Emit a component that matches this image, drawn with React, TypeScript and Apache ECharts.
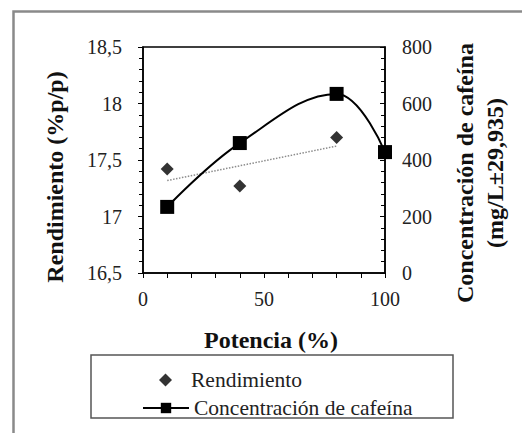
import React, { useEffect, useRef } from "react";
import * as echarts from "echarts";

// Data
const potencia = [10, 40, 80, 100];
const cafeina = [234, 460, 634, 428];
const rendimientoX = [10, 40, 80];
const rendimiento = [17.42, 17.27, 17.7];
const leftTicks = [16.5, 17, 17.5, 18, 18.5];
const rightTicks = [0, 200, 400, 600, 800];
const xTicks = [0, 50, 100];

function linearFit(xs: number[], ys: number[]) {
  const n = xs.length;
  const mx = xs.reduce((a, b) => a + b, 0) / n;
  const my = ys.reduce((a, b) => a + b, 0) / n;
  let sxy = 0;
  let sxx = 0;
  for (let i = 0; i < n; i++) {
    sxy += (xs[i] - mx) * (ys[i] - my);
    sxx += (xs[i] - mx) * (xs[i] - mx);
  }
  const slope = sxy / sxx;
  const intercept = my - slope * mx;
  return (x: number) => intercept + slope * x;
}

const SERIF = "Liberation Serif";

export default function App() {
  const ref = useRef<HTMLDivElement>(null);

  useEffect(() => {
    document.body.style.margin = "0";
    if (!ref.current) return;
    const chart = echarts.init(ref.current, undefined, { renderer: "svg" });
    const fit = linearFit(rendimientoX, rendimiento);
    const x0 = rendimientoX[0];
    const x1 = rendimientoX[rendimientoX.length - 1];
    const trend = [
      [x0, fit(x0)],
      [x1, fit(x1)],
    ];

    const legendText = { fontFamily: SERIF, fontSize: 21.5, color: "#222" };

    chart.setOption({
      animation: false,
      backgroundColor: "#ffffff",
      textStyle: { fontFamily: SERIF },
      graphic: {
        elements: [
          {
            type: "polyline",
            z: 100,
            shape: { points: [[13.5, 440], [13.5, 11.5], [530, 11.5]] },
            style: { stroke: "#8a8a8a", lineWidth: 2.5, fill: "none" },
            silent: true,
          },
          {
            type: "rect",
            shape: { x: 91, y: 355, width: 362, height: 63 },
            style: { fill: "#ffffff", stroke: "#555555", lineWidth: 1.5 },
            silent: true,
            z: -5,
          },
        ],
      },
      grid: {
        left: 143,
        right: 137,
        top: 47,
        bottom: 160,
        show: true,
        borderColor: "#000",
        borderWidth: 1.5,
        backgroundColor: "transparent",
      },
      legend: [
        {
          left: 159,
          top: 369,
          padding: 0,
          itemWidth: 13,
          itemHeight: 13,
          textStyle: { ...legendText, padding: [0, 0, 0, 14] },
          data: [{ name: "Rendimiento", icon: "diamond" }],
        },
        {
          left: 142,
          top: 397,
          padding: 0,
          itemWidth: 46,
          itemHeight: 13,
          textStyle: legendText,
          data: [{ name: "Concentración de cafeína" }],
        },
      ],
      xAxis: {
        type: "value",
        min: xTicks[0],
        max: xTicks[xTicks.length - 1],
        interval: xTicks[1] - xTicks[0],
        name: "Potencia (%)",
        nameLocation: "middle",
        nameGap: 55,
        nameTextStyle: {
          fontFamily: SERIF,
          fontSize: 24,
          fontWeight: "bold",
          color: "#111",
          padding: [0, 0, 0, 14],
        },
        axisLine: { lineStyle: { color: "#000", width: 1.5 } },
        axisTick: { show: true, length: 5, lineStyle: { color: "#000" } },
        minorTick: { show: true, splitNumber: 5, length: 5, lineStyle: { color: "#000" } },
        axisLabel: { fontFamily: SERIF, fontSize: 20, color: "#222", margin: 16 },
        splitLine: { show: false },
      },
      yAxis: [
        {
          type: "value",
          position: "left",
          min: leftTicks[0],
          max: leftTicks[leftTicks.length - 1],
          interval: 0.5,
          name: "Rendimiento (%p/p)",
          nameLocation: "middle",
          nameGap: 76,
          nameTextStyle: {
            fontFamily: SERIF,
            fontSize: 24,
            fontWeight: "bold",
            color: "#111",
            padding: [0, 34, 0, 0],
          },
          axisLine: { show: true, lineStyle: { color: "#000", width: 1.5 } },
          axisTick: { show: true, length: 5, lineStyle: { color: "#000" } },
          minorTick: { show: true, splitNumber: 5, length: 4, lineStyle: { color: "#000" } },
          axisLabel: {
            fontFamily: SERIF,
            fontSize: 20,
            color: "#222",
            margin: 21,
            formatter: (v: number) => String(v).replace(".", ","),
          },
          splitLine: { show: false },
        },
        {
          type: "value",
          position: "right",
          min: rightTicks[0],
          max: rightTicks[rightTicks.length - 1],
          interval: 200,
          name: "Concentración de cafeína\n(mg/L±29,935)",
          nameLocation: "middle",
          nameGap: 65,
          nameTextStyle: {
            fontFamily: SERIF,
            fontSize: 24,
            fontWeight: "bold",
            color: "#111",
            lineHeight: 30,
            align: "center",
            padding: [0, 26, 0, 0],
          },
          axisLine: { show: true, lineStyle: { color: "#000", width: 1.5 } },
          axisTick: { show: true, inside: true, length: 5, lineStyle: { color: "#000" } },
          minorTick: { show: true, splitNumber: 5, length: 4, lineStyle: { color: "#000" } },
          axisLabel: { fontFamily: SERIF, fontSize: 20, color: "#222", margin: 17 },
          splitLine: { show: false },
        },
      ],
      series: [
        {
          name: "Rendimiento",
          type: "scatter",
          yAxisIndex: 0,
          symbol: "diamond",
          symbolSize: 13,
          itemStyle: { color: "#000" },
          data: rendimientoX.map((x, i) => [x, rendimiento[i]]),
          z: 4,
        },
        {
          name: "Tendencia",
          type: "line",
          yAxisIndex: 0,
          symbol: "none",
          lineStyle: { color: "#8c8c8c", width: 1.5, type: "dotted" },
          data: trend,
          silent: true,
          z: 2,
        },
        {
          name: "Concentración de cafeína",
          type: "line",
          yAxisIndex: 1,
          symbol: "rect",
          symbolSize: 14,
          smooth: 0.4,
          itemStyle: { color: "#000" },
          lineStyle: { color: "#000", width: 2 },
          data: potencia.map((x, i) => [x, cafeina[i]]),
          z: 5,
        },
      ],
    });

    return () => chart.dispose();
  }, []);

  return <div ref={ref} style={{ width: 522, height: 433 }} />;
}
